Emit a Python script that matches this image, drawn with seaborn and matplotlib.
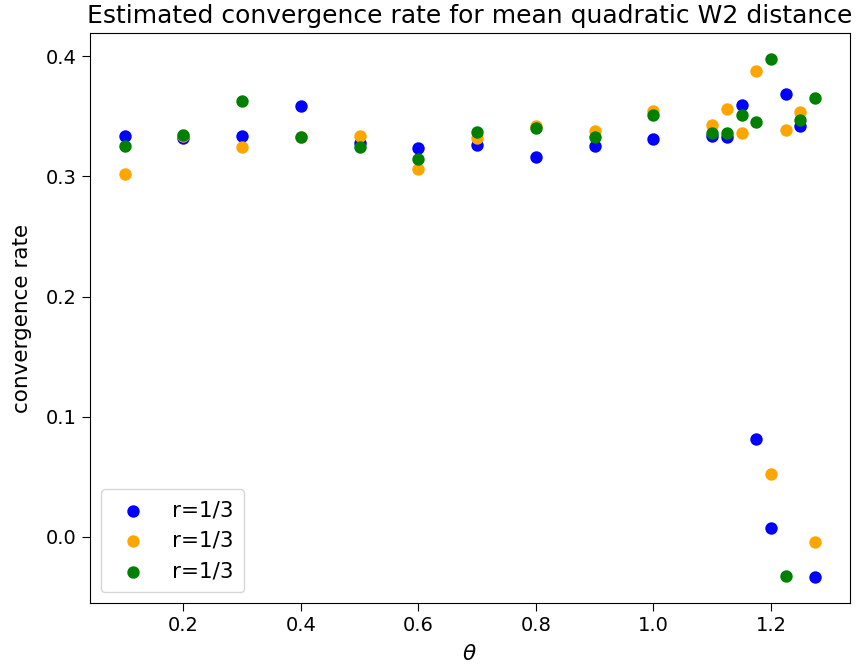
import numpy as np
import pandas as pd
import matplotlib
matplotlib.use("Agg")
import matplotlib.pyplot as plt
import seaborn as sns

# theta values
theta = [0.1, 0.2, 0.3, 0.4, 0.5, 0.6, 0.7, 0.8, 0.9, 1.0,
         1.1, 1.125, 1.15, 1.175, 1.2, 1.225, 1.25, 1.275]

# estimated convergence rates for three runs (all labelled r=1/3)
rate_blue = [0.334, 0.332, 0.334, 0.359, 0.328, 0.3236, 0.3264, 0.3166, 0.3255, 0.331,
             0.334, 0.3328, 0.3596, 0.0817, 0.0075, 0.3688, 0.3417, -0.0338]
rate_orange = [0.302, 0.334, 0.3244, 0.333, 0.334, 0.3063, 0.332, 0.3423, 0.3375, 0.3548,
               0.343, 0.3565, 0.336, 0.3877, 0.0522, 0.3389, 0.3537, -0.0045]
rate_green = [0.3255, 0.3345, 0.363, 0.3325, 0.3244, 0.3144, 0.3367, 0.340, 0.3325, 0.3515,
              0.336, 0.336, 0.3515, 0.3453, 0.398, -0.0326, 0.3467, 0.3654]

labels = ["r=1/3", "r=1/3", "r=1/3"]
colors = ["blue", "orange", "green"]

fig = plt.figure(figsize=(8.66, 6.71), dpi=100)
ax = fig.add_axes([0.104, 0.101, 0.877, 0.850])

for rates, lab, col in zip([rate_blue, rate_orange, rate_green], labels, colors):
    df = pd.DataFrame({"theta": theta, "rate": rates})
    sns.scatterplot(data=df, x="theta", y="rate", color=col, label=lab,
                    s=80, linewidth=0, ax=ax)

ax.set_title("Estimated convergence rate for mean quadratic W2 distance",
             fontsize=18, pad=7)
ax.set_xlabel(r"$\theta$", fontsize=15.5, labelpad=6)
ax.set_ylabel("convergence rate", fontsize=15.5, labelpad=10)
ax.tick_params(labelsize=14, length=6)
ax.legend(loc="lower left", fontsize=15.5, borderpad=0.5)

fig.savefig("out.png", dpi=100)
